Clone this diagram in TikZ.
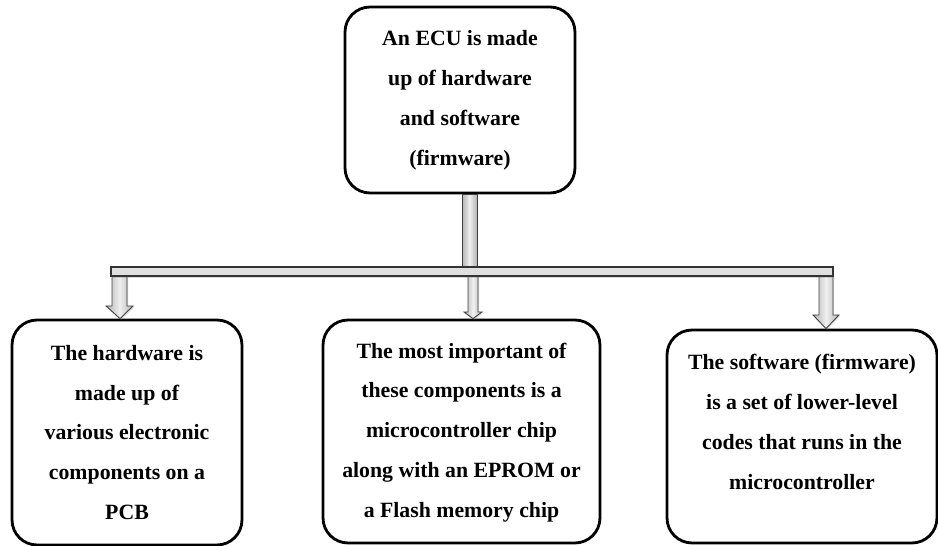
\documentclass[tikz,border=0pt]{standalone}
\usepackage{fontspec}
\setmainfont{Liberation Serif}
\usetikzlibrary{positioning,shadows}

\tikzset{
  box/.style = {draw, line width=1.6pt, rounded corners=0.5cm, align=center,
    inner sep=0pt, font=\bfseries\fontsize{12.4}{22.7}\selectfont},
  pipe/.style = {draw=black!75, line width=0.5pt,
    left color=gray!60, right color=gray!60, middle color=gray!12,
    drop shadow={shadow xshift=0.6pt, shadow yshift=-0.8pt, opacity=0.25}},
  bus/.style = {draw=black!80, line width=0.6pt, fill=gray!25,
    drop shadow={shadow xshift=0.6pt, shadow yshift=-0.9pt, opacity=0.3}},
}

\begin{document}
\begin{tikzpicture}[x=0.02cm, y=-0.02cm]
  \useasboundingbox (0,0) rectangle (938,546);

  \node[box, minimum width=4.6cm, minimum height=3.72cm] (ecu) at (460,100)
    {An ECU is made\\ up of hardware\\ and software\\ (firmware)};

  \node[box, minimum width=4.6cm, minimum height=4.5cm] (hw) at (127,432.5)
    {The hardware is\\ made up of\\ various electronic\\ components on a\\ PCB};
  \node[box, minimum width=5.54cm, minimum height=4.46cm] (chip) at (461.5,431.5)
    {\mbox{}\\[-0.45cm]The most important of\\ these components is a\\ microcontroller chip\\ along with an EPROM or\\ a Flash memory chip};
  \node[box, minimum width=5.4cm, minimum height=4.26cm] (sw) at (802,436.5)
    {The software (firmware)\\ is a set of lower-level\\ codes that runs in the\\ microcontroller\\[-0.2cm]\mbox{}};

  % stem down from the top box
  \draw[pipe] ([xshift=0.14cm]ecu.south) ++(-5,0) rectangle (477,268);

  % arrows into the three boxes
  \draw[pipe] (112,276) -- (112,306) -- (106,306) -- ([xshift=-0.14cm]hw.north)
    -- (133,306) -- (127,306) -- (127,276) -- cycle;
  \draw[pipe] (468,276) -- (468,312) -- (464,312) -- ([xshift=0.23cm]chip.north)
    -- (482,312) -- (478,312) -- (478,276) -- cycle;
  \draw[pipe] (819,276) -- (819,315) -- (813,315) -- ([xshift=0.48cm]sw.north)
    -- (839,315) -- (833,315) -- (833,276) -- cycle;

  % horizontal bus
  \draw[bus] (111,267) rectangle (833,276);
\end{tikzpicture}
\end{document}
